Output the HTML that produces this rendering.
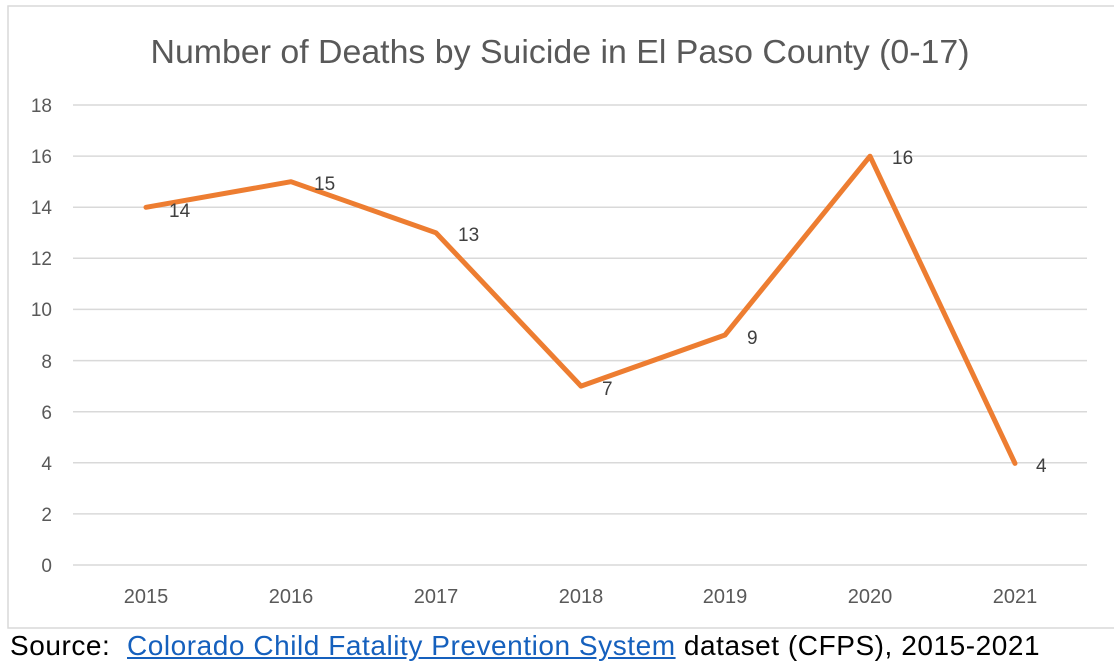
<!DOCTYPE html>
<html>
<head>
<meta charset="utf-8">
<style>
  html, body { margin:0; padding:0; background:#ffffff; }
  body { width:1114px; height:672px; position:relative; overflow:hidden; font-family:"Liberation Sans", Arial, sans-serif; }
  svg { position:absolute; left:0; top:0; }
  .src { position:absolute; left:10px; top:628px; font-size:28px; color:#000; white-space:nowrap; line-height:36px; letter-spacing:0.55px; }
  .src a { color:#1560bd; text-decoration:underline; }
</style>
</head>
<body>
<svg width="1114" height="672" viewBox="0 0 1114 672" xmlns="http://www.w3.org/2000/svg">
  <!-- frame -->
  <rect x="8" y="6" width="1120" height="622" fill="#ffffff" stroke="#d9d9d9" stroke-width="1.5"/>
  <!-- title -->
  <text x="560" y="63" text-anchor="middle" font-family="Liberation Sans, Arial, sans-serif" font-size="33" fill="#595959" textLength="819" lengthAdjust="spacingAndGlyphs">Number of Deaths by Suicide in El Paso County (0-17)</text>
  <!-- gridlines -->
  <g stroke="#d9d9d9" stroke-width="1.5">
    <line x1="73" y1="105" x2="1087" y2="105"/>
    <line x1="73" y1="156.1" x2="1087" y2="156.1"/>
    <line x1="73" y1="207.2" x2="1087" y2="207.2"/>
    <line x1="73" y1="258.3" x2="1087" y2="258.3"/>
    <line x1="73" y1="309.4" x2="1087" y2="309.4"/>
    <line x1="73" y1="360.6" x2="1087" y2="360.6"/>
    <line x1="73" y1="411.7" x2="1087" y2="411.7"/>
    <line x1="73" y1="462.8" x2="1087" y2="462.8"/>
    <line x1="73" y1="513.9" x2="1087" y2="513.9"/>
    <line x1="73" y1="565" x2="1087" y2="565"/>
  </g>
  <!-- y labels -->
  <g font-family="Liberation Sans, Arial, sans-serif" font-size="19" fill="#595959" text-anchor="end">
    <text x="52" y="112">18</text>
    <text x="52" y="163">16</text>
    <text x="52" y="214">14</text>
    <text x="52" y="265">12</text>
    <text x="52" y="316">10</text>
    <text x="52" y="368">8</text>
    <text x="52" y="419">6</text>
    <text x="52" y="470">4</text>
    <text x="52" y="521">2</text>
    <text x="52" y="572">0</text>
  </g>
  <!-- x labels -->
  <g font-family="Liberation Sans, Arial, sans-serif" font-size="20" fill="#595959" text-anchor="middle">
    <text x="146" y="603">2015</text>
    <text x="291" y="603">2016</text>
    <text x="436" y="603">2017</text>
    <text x="581" y="603">2018</text>
    <text x="725" y="603">2019</text>
    <text x="870" y="603">2020</text>
    <text x="1015" y="603">2021</text>
  </g>
  <!-- series -->
  <polyline points="146,207.3 291,181.7 436,232.8 581,386.1 725,335 870,156.2 1015,463.4" fill="none" stroke="#ed7d31" stroke-width="5" stroke-linejoin="round" stroke-linecap="round"/>
  <!-- data labels -->
  <g font-family="Liberation Sans, Arial, sans-serif" font-size="19" fill="#404040">
    <text x="169" y="217">14</text>
    <text x="314" y="190">15</text>
    <text x="458" y="241">13</text>
    <text x="602" y="395">7</text>
    <text x="747" y="344">9</text>
    <text x="892" y="164">16</text>
    <text x="1036" y="472">4</text>
  </g>
</svg>
<div class="src">Source:&nbsp; <a>Colorado Child Fatality Prevention System</a> dataset (CFPS), 2015-2021</div>
</body>
</html>
